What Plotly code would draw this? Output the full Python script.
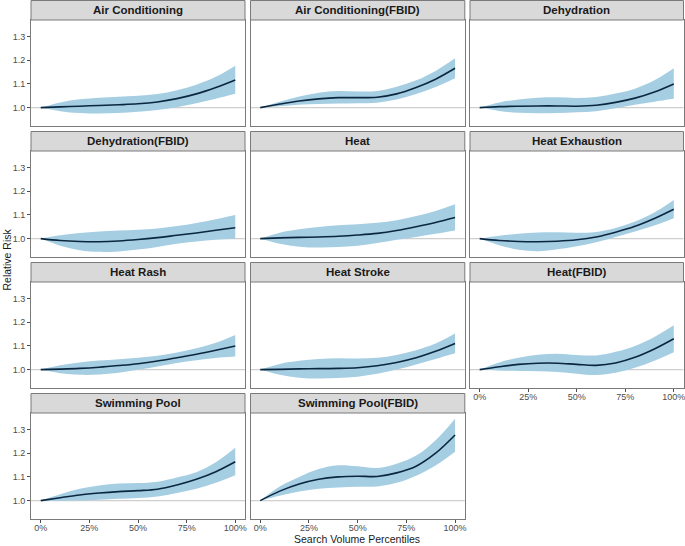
import plotly.graph_objects as go

# ---------------- data ----------------
pct = [0, 10, 20, 30, 40, 50, 60, 70, 80, 90, 100]
x_ticks = [0, 25, 50, 75, 100]
x_labels = ["0%", "25%", "50%", "75%", "100%"]
y_ticks = [1.0, 1.1, 1.2, 1.3]
y_labels = ["1.0", "1.1", "1.2", "1.3"]

titles = ["Air Conditioning", "Air Conditioning(FBID)", "Dehydration",
          "Dehydration(FBID)", "Heat", "Heat Exhaustion",
          "Heat Rash", "Heat Stroke", "Heat(FBID)",
          "Swimming Pool", "Swimming Pool(FBID)"]

ac_fit = [1.0, 1.003, 1.006, 1.009, 1.012, 1.016, 1.024, 1.038, 1.058, 1.085, 1.117]
ac_hi = [1.0, 1.022, 1.035, 1.042, 1.046, 1.05, 1.057, 1.073, 1.097, 1.13, 1.177]
ac_lo = [1.0, 0.985, 0.977, 0.975, 0.977, 0.982, 0.99, 1.002, 1.018, 1.037, 1.058]

acf_fit = [1.0, 1.015, 1.028, 1.037, 1.042, 1.042, 1.044, 1.058, 1.085, 1.12, 1.166]
acf_hi = [1.0, 1.025, 1.047, 1.063, 1.07, 1.068, 1.07, 1.088, 1.115, 1.155, 1.208]
acf_lo = [1.0, 1.006, 1.012, 1.015, 1.017, 1.018, 1.021, 1.034, 1.057, 1.087, 1.124]

de_fit = [1.0, 1.004, 1.006, 1.007, 1.007, 1.006, 1.01, 1.022, 1.04, 1.066, 1.1]
de_hi = [1.0, 1.022, 1.034, 1.042, 1.044, 1.041, 1.045, 1.06, 1.08, 1.115, 1.166]
de_lo = [1.0, 0.986, 0.978, 0.976, 0.977, 0.98, 0.985, 0.997, 1.012, 1.025, 1.037]

def_fit = [1.0, 0.992, 0.988, 0.987, 0.99, 0.996, 1.004, 1.014, 1.024, 1.035, 1.046]
def_hi = [1.0, 1.014, 1.024, 1.03, 1.034, 1.037, 1.043, 1.053, 1.066, 1.082, 1.1]
def_lo = [1.0, 0.97, 0.951, 0.944, 0.946, 0.954, 0.965, 0.978, 0.988, 0.995, 0.999]

he_fit = [1.0, 1.003, 1.005, 1.007, 1.01, 1.015, 1.022, 1.034, 1.05, 1.068, 1.089]
he_hi = [1.0, 1.025, 1.039, 1.049, 1.056, 1.061, 1.067, 1.078, 1.095, 1.117, 1.145]
he_lo = [1.0, 0.978, 0.966, 0.962, 0.964, 0.97, 0.981, 0.995, 1.007, 1.02, 1.034]

hx_fit = [1.0, 0.992, 0.988, 0.987, 0.989, 0.995, 1.007, 1.027, 1.052, 1.085, 1.124]
hx_hi = [1.0, 1.012, 1.02, 1.026, 1.027, 1.025, 1.028, 1.045, 1.072, 1.11, 1.163]
hx_lo = [1.0, 0.972, 0.953, 0.947, 0.955, 0.968, 0.985, 1.007, 1.03, 1.055, 1.086]

hr_fit = [1.0, 1.002, 1.005, 1.01, 1.017, 1.025, 1.036, 1.05, 1.065, 1.082, 1.1]
hr_hi = [1.0, 1.018, 1.03, 1.038, 1.044, 1.05, 1.058, 1.072, 1.09, 1.113, 1.146]
hr_lo = [1.0, 0.985, 0.978, 0.979, 0.987, 0.999, 1.013, 1.028, 1.04, 1.049, 1.055]

hs_fit = [1.0, 1.001, 1.003, 1.004, 1.005, 1.008, 1.016, 1.03, 1.05, 1.077, 1.11]
hs_hi = [1.0, 1.024, 1.037, 1.045, 1.048, 1.047, 1.05, 1.062, 1.082, 1.11, 1.152]
hs_lo = [1.0, 0.978, 0.966, 0.962, 0.964, 0.97, 0.982, 1.0, 1.022, 1.045, 1.069]

hf_fit = [1.0, 1.012, 1.022, 1.027, 1.027, 1.022, 1.018, 1.028, 1.052, 1.087, 1.13]
hf_hi = [1.0, 1.03, 1.05, 1.063, 1.067, 1.062, 1.06, 1.075, 1.1, 1.138, 1.187]
hf_lo = [1.0, 0.996, 0.994, 0.993, 0.99, 0.983, 0.977, 0.987, 1.008, 1.037, 1.073]

sp_fit = [1.0, 1.012, 1.024, 1.032, 1.038, 1.042, 1.048, 1.066, 1.09, 1.122, 1.164]
sp_hi = [1.0, 1.027, 1.05, 1.064, 1.072, 1.074, 1.08, 1.098, 1.12, 1.162, 1.223]
sp_lo = [1.0, 0.998, 1.0, 1.004, 1.008, 1.011, 1.017, 1.032, 1.05, 1.075, 1.107]

spf_fit = [1.0, 1.04, 1.07, 1.09, 1.1, 1.103, 1.102, 1.117, 1.145, 1.2, 1.277]
spf_hi = [1.0, 1.06, 1.1, 1.133, 1.149, 1.145, 1.138, 1.156, 1.19, 1.255, 1.346]
spf_lo = [1.0, 1.02, 1.038, 1.05, 1.055, 1.058, 1.06, 1.075, 1.105, 1.148, 1.206]

fits = [ac_fit, acf_fit, de_fit, def_fit, he_fit, hx_fit, hr_fit, hs_fit, hf_fit, sp_fit, spf_fit]
his = [ac_hi, acf_hi, de_hi, def_hi, he_hi, hx_hi, hr_hi, hs_hi, hf_hi, sp_hi, spf_hi]
los = [ac_lo, acf_lo, de_lo, def_lo, he_lo, hx_lo, hr_lo, hs_lo, hf_lo, sp_lo, spf_lo]

# ---------------- layout geometry ----------------
W, H = 685, 546
col_px = [(31, 245), (250.5, 464.8), (470, 683.5)]
PITCH = 131
STRIP_TOP, STRIP_BOT, PLOT_BOT = 0.5, 20, 126

BAND = "#A6CEE3"
LINE = "#0B2740"
BORDER = "#7A7A7A"
FONT = "Arial, Liberation Sans, sans-serif"

fig = go.Figure()
layout = dict(
    width=W, height=H, margin=dict(l=0, r=0, t=0, b=0),
    paper_bgcolor="white", plot_bgcolor="white", showlegend=False,
    font=dict(family=FONT, size=9, color="#4D4D4D"),
)
shapes = []
annotations = []

bottom_panels = {8, 9, 10}

for i, title in enumerate(titles):
    r, c = divmod(i, 3)
    k = "" if i == 0 else str(i + 1)
    xa, ya = "x" + k, "y" + k
    x0p, x1p = col_px[c]
    st, sb, pb = STRIP_TOP + PITCH * r, STRIP_BOT + PITCH * r, PLOT_BOT + PITCH * r

    show_x = i in bottom_panels
    show_y = c == 0
    layout["xaxis" + k] = dict(
        domain=[x0p / W, x1p / W], anchor=ya, range=[-5, 105],
        tickmode="array", tickvals=x_ticks, ticktext=x_labels,
        showticklabels=show_x, automargin=False, ticklabeloverflow="allow",
        ticklabelstandoff=-3,
        ticks="outside" if show_x else "", ticklen=3, tickcolor="#4D4D4D",
        showgrid=False, zeroline=False, showline=True, mirror=True,
        linecolor=BORDER, linewidth=1, tickfont=dict(size=9, color="#4D4D4D"),
        fixedrange=True,
    )
    layout["yaxis" + k] = dict(
        domain=[1 - pb / H, 1 - sb / H], anchor=xa, range=[0.9223, 1.3699],
        tickmode="array", tickvals=y_ticks, ticktext=y_labels,
        showticklabels=show_y, automargin=False,
        ticks="outside" if show_y else "", ticklen=3, tickcolor="#4D4D4D",
        showgrid=False, zeroline=False, showline=True, mirror=True,
        linecolor=BORDER, linewidth=1, tickfont=dict(size=9, color="#4D4D4D"),
        fixedrange=True,
    )

    # reference line at RR = 1
    shapes.append(dict(type="line", xref=xa + " domain", yref=ya, x0=0, x1=1,
                       y0=1, y1=1, line=dict(color="#CFCFCF", width=1.3),
                       layer="below"))
    # strip
    shapes.append(dict(type="rect", xref="paper", yref="paper",
                       x0=x0p / W, x1=x1p / W, y0=1 - sb / H, y1=1 - st / H,
                       fillcolor="#D9D9D9", line=dict(color=BORDER, width=1)))
    annotations.append(dict(text="<b>%s</b>" % title, xref="paper", yref="paper",
                            x=(x0p + x1p) / 2 / W, y=1 - (st + sb) / 2 / H,
                            showarrow=False, xanchor="center", yanchor="middle",
                            font=dict(family=FONT, size=11.5, color="#1A1A1A")))

    fig.add_trace(go.Scatter(x=pct, y=his[i], xaxis=xa, yaxis=ya, mode="lines",
                             line=dict(width=0, shape="spline", color=BAND),
                             hoverinfo="skip"))
    fig.add_trace(go.Scatter(x=pct, y=los[i], xaxis=xa, yaxis=ya, mode="lines",
                             line=dict(width=0, shape="spline", color=BAND),
                             fill="tonexty", fillcolor=BAND, hoverinfo="skip"))
    fig.add_trace(go.Scatter(x=pct, y=fits[i], xaxis=xa, yaxis=ya, mode="lines",
                             line=dict(width=1.6, shape="spline", color=LINE)))

annotations.append(dict(text="Search Volume Percentiles", xref="paper", yref="paper",
                        x=357 / W, y=1 - 539 / H, showarrow=False,
                        xanchor="center", yanchor="middle",
                        font=dict(family=FONT, size=10.5, color="#1A1A1A")))
annotations.append(dict(text="Relative Risk", xref="paper", yref="paper",
                        x=6 / W, y=1 - 259.5 / H, showarrow=False, textangle=-90,
                        xanchor="center", yanchor="middle",
                        font=dict(family=FONT, size=10.5, color="#1A1A1A")))

layout["shapes"] = shapes
layout["annotations"] = annotations
fig.update_layout(**layout)
fig.write_html("out.html", config={"displayModeBar": False},
               post_script="document.body.style.margin='0';document.body.style.overflow='hidden';")
